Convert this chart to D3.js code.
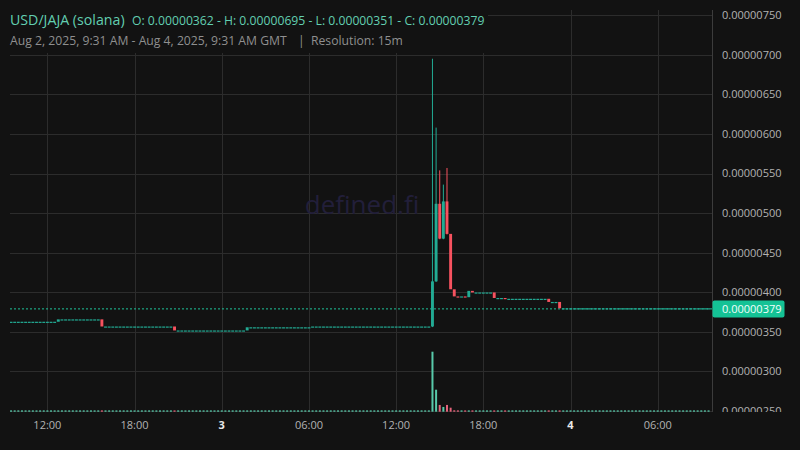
<!DOCTYPE html>
<html><head><meta charset="utf-8">
<script src="https://cdn.jsdelivr.net/npm/d3@7"></script>
<style>
html,body{margin:0;padding:0;background:#121212;overflow:hidden}
svg{display:block;font-family:"Open Sans","Noto Sans",sans-serif}
</style>
</head><body>
<svg id="chart" width="800" height="450"></svg>
<script>
// ---------- data ----------
const pairName = "USD/JAJA (solana)";
const ohlcNames = ["O", "H", "L", "C"];
const ohlcValues = [0.00000362, 0.00000695, 0.00000351, 0.00000379];
const rangeText = "Aug 2, 2025, 9:31 AM - Aug 4, 2025, 9:31 AM GMT";
const resolutionText = "Resolution: 15m";
const watermarkText = "defined.fi";
const rangeStart = "2025-08-02T09:31:00Z";
const rangeEnd = "2025-08-04T09:31:00Z";
const firstCandle = "2025-08-02T09:30:00Z";
const intervalMinutes = 15;

// closes in units of 1e-8 (one per 15m candle, Aug 2 09:30 .. Aug 4 09:30)
const closesE8 = [
  362,362,362,362,362,362,362,362,362,362,362,362,362,365,365,365,365,365,365,365,365,365,365,365,
  365,356,356,356,356,356,356,356,356,356,356,356,356,356,356,356,356,356,356,356,356,351,351,351,
  351,351,351,351,351,351,351,351,351,351,351,351,351,351,351,351,351,355,355,355,355,355,355,355,
  355,355,355,355,355,355,355,355,355,355,355,356,356,356,356,356,356,356,356,356,356,356,356,356,
  356,356,356,356,356,356,356,356,356,356,356,356,356,356,356,356,356,356,356,356,413,511,467,514,
  473,403,394,393,394,393,401,399,399,399,399,399,399,392,392,392,391,391,391,391,391,391,391,391,
  391,391,391,391,387,387,387,379,379,379,379,379,379,379,379,379,379,379,379,379,379,379,379,379,
  379,379,379,379,379,379,379,379,379,379,379,379,379,379,379,379,379,379,379,379,379,379,379,379,
  379
];
const firstOpenE8 = 362;
// wick highs for the spike candles
const wickIndex = [116, 117, 118, 119, 120];
const wickHighE8 = [695, 608, 554, 536, 557];

// volume (USD) per candle
const volumes = [
  150,120,90,200,140,110,170,130,100,160,120,90,140,210,130,110,150,120,100,170,90,130,120,140,
  110,190,140,120,100,150,130,90,160,120,110,140,100,130,150,90,120,170,110,130,100,180,160,120,
  130,100,140,120,90,150,110,130,160,100,120,140,90,110,150,130,100,170,120,140,110,90,130,150,
  120,100,160,110,130,90,140,120,100,150,110,180,130,120,90,140,100,160,120,110,130,150,90,120,
  140,100,130,110,160,120,90,150,130,100,140,120,110,90,170,130,120,100,150,140,24000,8800,2700,1900,
  2700,1600,560,300,220,180,260,200,150,130,170,120,140,110,230,160,130,180,120,100,140,110,130,90,
  120,150,100,130,190,140,120,200,150,110,130,100,140,120,90,150,110,130,100,160,120,140,90,110,
  130,100,150,120,140,90,110,160,100,130,120,150,90,140,110,100,130,120,150,90,140,110,120,100,
  130
];

const priceTicks = [0.0000025,0.000003,0.0000035,0.000004,0.0000045,0.000005,0.0000055,0.000006,0.0000065,0.000007,0.0000075];
const timeTicks = ["2025-08-02T12:00:00Z","2025-08-02T18:00:00Z","2025-08-03T00:00:00Z","2025-08-03T06:00:00Z",
                   "2025-08-03T12:00:00Z","2025-08-03T18:00:00Z","2025-08-04T00:00:00Z","2025-08-04T06:00:00Z"];
const timeTickLabels = ["12:00","18:00","3","06:00","12:00","18:00","4","06:00"];
const timeTickBold = [false,false,true,false,false,false,true,false];
const lastPrice = 0.00000379;

// ---------- build candles ----------
const t0 = new Date(firstCandle).getTime();
const candles = closesE8.map((c, i) => {
  const o = i === 0 ? firstOpenE8 : closesE8[i - 1];
  const wi = wickIndex.indexOf(i);
  const h = wi >= 0 ? wickHighE8[wi] : Math.max(o, c);
  const l = Math.min(o, c);
  return { t: new Date(t0 + i * intervalMinutes * 60000), o: o / 1e8, h: h / 1e8, l: l / 1e8, c: c / 1e8, v: volumes[i] };
});

// ---------- styles ----------
const BG = "#121212", GRID = "#2c2c2c", UP = "#22ab94", DOWN = "#f7525f";
const VUP = "#58c9aa", VDOWN = "#e3637a", AXIS_TEXT = "#b2b2b2", HEAD = "#62cfb1";

const svg = d3.select("#chart");
const W = 800, H = 450;
const plot = { left: 10, right: 712.5, top: 10, bottom: 412 };

const x = d3.scaleUtc().domain([new Date(rangeStart), new Date(rangeEnd)]).range([11.3, 708.8]);
const y = d3.scaleLinear().domain([0.0000025, 0.0000075]).range([411, 15.2]);
const yv = d3.scaleLinear().domain([0, 24000]).range([411.7, 351.7]);

svg.append("rect").attr("width", W).attr("height", H).attr("fill", BG);

const defs = svg.append("defs");
defs.append("clipPath").attr("id", "plotClip").append("rect")
  .attr("x", plot.left).attr("y", plot.top).attr("width", plot.right - plot.left).attr("height", plot.bottom - plot.top);
defs.append("clipPath").attr("id", "axisClip").append("rect")
  .attr("x", plot.right).attr("y", 0).attr("width", W - plot.right).attr("height", plot.bottom);

// grid
const grid = svg.append("g");
grid.selectAll(".vg").data(timeTicks).join("line")
  .attr("x1", d => Math.round(x(new Date(d))) + 0.5).attr("x2", d => Math.round(x(new Date(d))) + 0.5)
  .attr("y1", plot.top).attr("y2", plot.bottom).attr("stroke", GRID).attr("stroke-width", 1);
grid.selectAll(".hg").data(priceTicks).join("line")
  .attr("x1", plot.left).attr("x2", plot.right)
  .attr("y1", d => Math.round(y(d)) + 0.5).attr("y2", d => Math.round(y(d)) + 0.5)
  .attr("stroke", GRID).attr("stroke-width", 1);

// watermark
svg.append("text").attr("x", 362).attr("y", 214).attr("text-anchor", "middle")
  .attr("font-size", 26).attr("fill", "#221f3a").text(watermarkText);

const pg = svg.append("g").attr("clip-path", "url(#plotClip)");

// volume
pg.selectAll(".vol").data(candles).join("rect")
  .attr("x", d => x(d.t) - 1).attr("width", 2)
  .attr("y", d => Math.min(yv(d.v), yv(0) - 1.3))
  .attr("height", d => Math.max(yv(0) - yv(d.v), 1.3))
  .attr("fill", d => d.c >= d.o ? VUP : VDOWN);

// current price line
pg.append("line").attr("x1", plot.left).attr("x2", plot.right)
  .attr("y1", y(lastPrice)).attr("y2", y(lastPrice))
  .attr("stroke", "#1fc49a").attr("stroke-width", 1).attr("stroke-dasharray", "2,2");

// wicks
pg.selectAll(".wick").data(candles.filter(d => d.h > Math.max(d.o, d.c) || d.l < Math.min(d.o, d.c))).join("line")
  .attr("x1", d => x(d.t)).attr("x2", d => x(d.t))
  .attr("y1", d => y(d.h)).attr("y2", d => y(d.l))
  .attr("stroke", d => d.c >= d.o ? UP : DOWN).attr("stroke-width", 1);

// bodies
pg.selectAll(".body").data(candles).join("rect")
  .attr("x", d => x(d.t) - 1.45).attr("width", 2.9)
  .attr("y", d => y(Math.max(d.o, d.c)) - 0.6)
  .attr("height", d => Math.max(Math.abs(y(d.o) - y(d.c)), 1.2))
  .attr("fill", d => d.c >= d.o ? UP : DOWN);

// right axis line
svg.append("line").attr("x1", plot.right).attr("x2", plot.right).attr("y1", plot.top).attr("y2", plot.bottom)
  .attr("stroke", "#3c3c3c").attr("stroke-width", 1);

// y labels
const ya = svg.append("g").attr("clip-path", "url(#axisClip)");
ya.selectAll("text").data(priceTicks).join("text")
  .attr("x", 722).attr("y", d => y(d)).attr("dy", "0.35em")
  .attr("font-size", 11).attr("fill", AXIS_TEXT).text(d => d.toFixed(8));

// last price label
svg.append("rect").attr("x", plot.right).attr("y", y(lastPrice) - 8.5).attr("width", 72).attr("height", 17)
  .attr("rx", 2).attr("fill", "#14c295");
svg.append("text").attr("x", 722).attr("y", y(lastPrice)).attr("dy", "0.35em")
  .attr("font-size", 11).attr("fill", "#f2fffb").text(lastPrice.toFixed(8));

// x labels
svg.selectAll(".xl").data(timeTicks).join("text")
  .attr("x", d => x(new Date(d))).attr("y", 429).attr("text-anchor", "middle")
  .attr("font-size", 11)
  .attr("font-weight", (d, i) => timeTickBold[i] ? "bold" : "normal")
  .attr("fill", (d, i) => timeTickBold[i] ? "#e8e8e8" : AXIS_TEXT)
  .text((d, i) => timeTickLabels[i]);

// header
svg.append("rect").attr("x", 0).attr("y", 0).attr("width", 488).attr("height", 53).attr("fill", BG);
svg.append("text").attr("x", 10).attr("y", 25).attr("font-size", 14.2).attr("fill", HEAD).text(pairName);
svg.append("text").attr("x", 132).attr("y", 25).attr("font-size", 12.2).attr("fill", HEAD)
  .text(ohlcNames.map((n, i) => n + ": " + ohlcValues[i].toFixed(8)).join(" - "));
svg.append("text").attr("x", 10).attr("y", 45).attr("font-size", 12.2).attr("fill", "#8f8f8f").text(rangeText);
svg.append("text").attr("x", 298).attr("y", 45).attr("font-size", 12.2).attr("fill", "#8f8f8f").text("|");
svg.append("text").attr("x", 311).attr("y", 45).attr("font-size", 12.2).attr("fill", "#8f8f8f").text(resolutionText);
</script>
</body></html>
